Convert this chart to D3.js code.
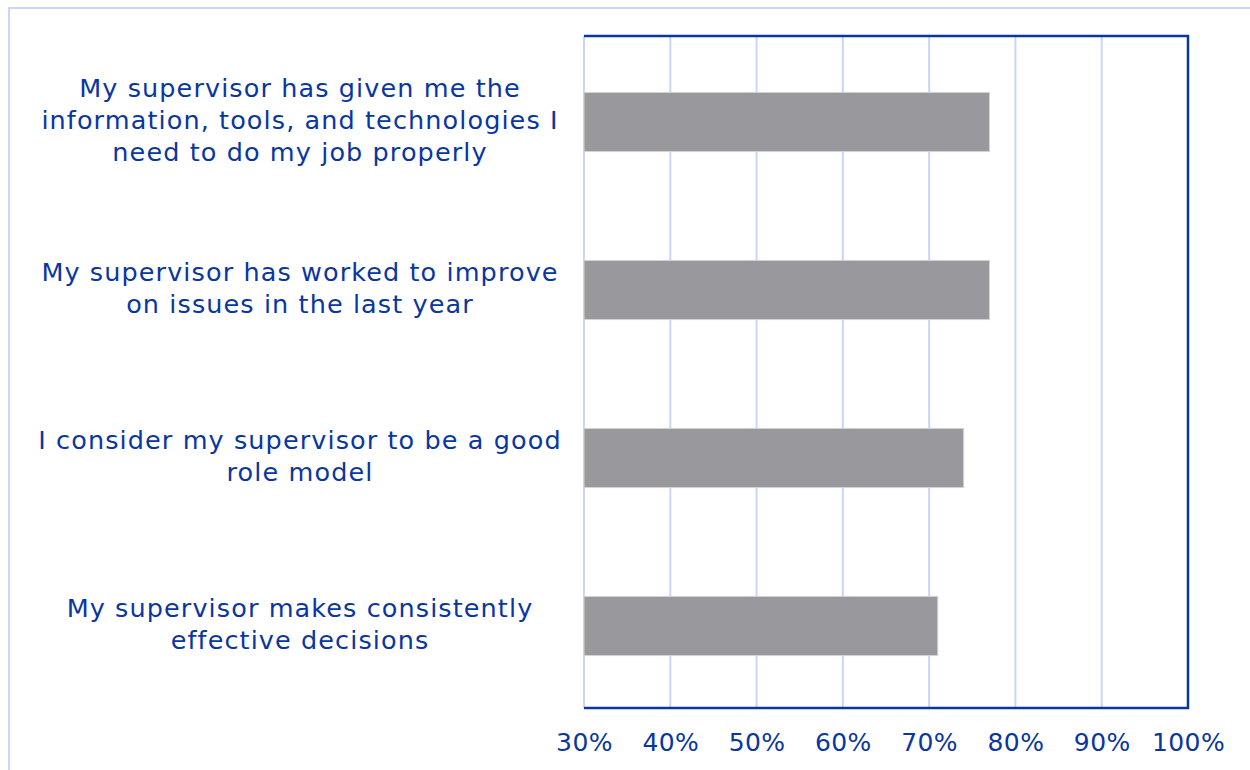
<!DOCTYPE html>
<html><head><meta charset="utf-8">
<script src="https://cdn.jsdelivr.net/npm/d3@7"></script>
<style>html,body{margin:0;padding:0;background:#fff;}svg{display:block;}</style>
</head><body>
<svg id="chart" width="1250" height="770"></svg>
<script>
const categories = [
  ["My supervisor has given me the", "information, tools, and technologies I", "need to do my job properly"],
  ["My supervisor has worked to improve", "on issues in the last year"],
  ["I consider my supervisor to be a good", "role model"],
  ["My supervisor makes consistently", "effective decisions"]
];
const values = [77, 77, 74, 71];
const tickValues = [30, 40, 50, 60, 70, 80, 90, 100];

const W = 1250, H = 770;
const m = {left: 584, right: 1188, top: 36, bottom: 708};
const blue = "#0a36a0", grid = "#c9d6fa", barFill = "#99989c";
const font = "'DejaVu Sans', sans-serif";

const svg = d3.select("#chart");
svg.append("rect").attr("x", 9).attr("y", 8).attr("width", 1300).attr("height", 800)
  .attr("fill", "none").attr("stroke", grid).attr("stroke-width", 2);

const x = d3.scaleLinear().domain([30, 100]).range([m.left, m.right]);
const y = d3.scaleBand().domain(d3.range(categories.length)).range([m.top + 2, m.bottom + 2]).paddingInner(0.648).paddingOuter(0.324);

// gridlines
svg.append("g").selectAll("line").data(tickValues).join("line")
  .attr("x1", d => x(d)).attr("x2", d => x(d)).attr("y1", m.top).attr("y2", m.bottom)
  .attr("stroke", grid).attr("stroke-width", 2);

// bars
svg.append("g").selectAll("rect").data(values).join("rect")
  .attr("x", x(30)).attr("y", (d, i) => y(i)).attr("width", d => x(d) - x(30)).attr("height", y.bandwidth())
  .attr("fill", barFill).attr("stroke", "#d4d4d6").attr("stroke-width", 1);

// frame (top, right, bottom)
svg.append("path").attr("d", `M${m.left},${m.top}H${m.right}V${m.bottom}H${m.left}`)
  .attr("fill", "none").attr("stroke", blue).attr("stroke-width", 2.5);

// x axis
const xAxis = svg.append("g").attr("transform", `translate(0,${m.bottom})`)
  .call(d3.axisBottom(x).tickValues(tickValues).tickFormat(d => d + "%").tickSize(0).tickPadding(25));
xAxis.select(".domain").remove();
xAxis.selectAll("text").attr("fill", blue).attr("font-family", font).attr("font-size", 25)
  .attr("letter-spacing", 0.4).attr("dy", "0.71em");

// category labels
const step = (m.bottom - m.top) / categories.length;
const lh = 32;
const lab = svg.append("g");
categories.forEach((lines, i) => {
  const cy = m.top + step * (i + 0.5);
  const t = lab.append("text").attr("text-anchor", "middle").attr("fill", blue)
    .attr("font-family", font).attr("font-size", 25.5).attr("letter-spacing", 1.1);
  lines.forEach((ln, j) => {
    t.append("tspan").attr("x", 300).attr("y", cy + (j - (lines.length - 1) / 2) * lh).attr("dy", "0.36em").text(ln);
  });
});
</script>
</body></html>
